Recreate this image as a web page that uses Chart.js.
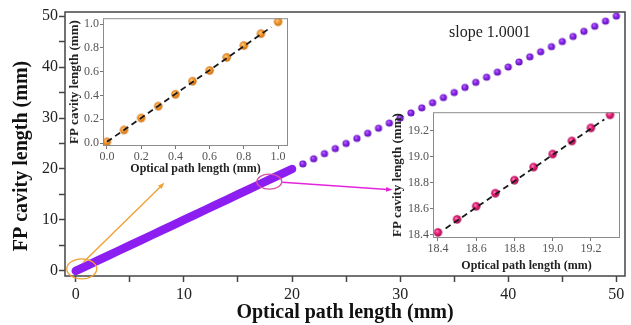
<!DOCTYPE html>
<html>
<head>
<meta charset="utf-8">
<script src="https://cdn.jsdelivr.net/npm/chart.js@4.4.0/dist/chart.umd.min.js"></script>
<style>
  html, body { margin: 0; padding: 0; background: #fff; }
  #wrap { position: relative; width: 631px; height: 325px; }
  #wrap canvas { position: absolute; }
</style>
</head>
<body>
<div id="wrap">
  <canvas id="mainChart" width="631" height="325" style="left:0;top:0"></canvas>
  <canvas id="insetLow" width="240" height="168" style="left:60px;top:10px"></canvas>
  <canvas id="insetMid" width="242" height="175" style="left:385px;top:104px"></canvas>
</div>
<script>
// main curve: optical path vs FP cavity length (mm)
var opticalPath  = [0,1,2,3,4,5,6,7,8,9,10,11,12,13,14,15,16,17,18,19,20,21,22,23,24,25,26,27,28,29,30,31,32,33,34,35,36,37,38,39,40,41,42,43,44,45,46,47,48,49,50];
var cavityLength = [0,1,2,3,4,5,6,7,8,9,10,11,12,13,14,15,16,17,18,19,20,21,22,23,24,25,26,27,28,29,30,31,32,33,34,35,36,37,38,39,40,41,42,43,44,45,46,47,48,49,50];
var denseUntil = 20;   // below this the measurement is dense (thick band)
var mainTickLabels = [0, 10, 20, 30, 40, 50];

// zoom near zero
var lowPath   = [0.0,0.1,0.2,0.3,0.4,0.5,0.6,0.7,0.8,0.9,1.0];
var lowCavity = [0.01,0.11,0.21,0.31,0.41,0.52,0.61,0.72,0.82,0.92,1.02];
var lowFitPath   = [0.0, 0.96];
var lowFitCavity = [0.01, 0.975];

// zoom near 18.4 - 19.3 mm
var midPath   = [18.4,18.5,18.6,18.7,18.8,18.9,19.0,19.1,19.2,19.3];
var midCavity = [18.42,18.52,18.62,18.72,18.82,18.92,19.02,19.12,19.22,19.32];
var midFitPath   = [18.44, 19.27];
var midFitCavity = [18.45, 19.285];

var slopeText = 'slope 1.0001';
var serif = "'Liberation Serif', 'Times New Roman', serif";

function pts(xs, ys) {
  var out = [];
  for (var i = 0; i < xs.length; i++) out.push({x: xs[i], y: ys[i]});
  return out;
}

// little shaded ball used as point style
function ball(r, light, base, dark) {
  var c = document.createElement('canvas');
  var s = Math.ceil(r * 2) + 2;
  c.width = s; c.height = s;
  var g = c.getContext('2d');
  var m = s / 2;
  var grad = g.createRadialGradient(m - r * 0.3, m - r * 0.35, 0, m, m, r * 1.05);
  grad.addColorStop(0, light);
  grad.addColorStop(0.45, base);
  grad.addColorStop(1, dark);
  g.fillStyle = grad;
  g.beginPath(); g.arc(m, m, r, 0, Math.PI * 2); g.fill();
  return c;
}

var violetBall = ball(3.6, '#c884ff', '#8e24f0', '#5812aa');
var orangeBall = ball(4.2, '#ffd89a', '#fa9a2e', '#c46a10');
var pinkBall   = ball(4.2, '#ff9ccc', '#f0207e', '#9a0846');

Chart.defaults.font.family = serif;
Chart.defaults.animation = false;

function arrow(ctx, x1, y1, x2, y2, color, head) {
  var a = Math.atan2(y2 - y1, x2 - x1);
  ctx.strokeStyle = color; ctx.fillStyle = color; ctx.lineWidth = 1.4;
  ctx.beginPath(); ctx.moveTo(x1, y1); ctx.lineTo(x2 - Math.cos(a) * head * 0.7, y2 - Math.sin(a) * head * 0.7); ctx.stroke();
  ctx.beginPath();
  ctx.moveTo(x2, y2);
  ctx.lineTo(x2 - head * Math.cos(a - 0.35), y2 - head * Math.sin(a - 0.35));
  ctx.lineTo(x2 - head * Math.cos(a + 0.35), y2 - head * Math.sin(a + 0.35));
  ctx.closePath(); ctx.fill();
}

var mainDecor = {
  id: 'mainDecor',
  afterDraw: function (chart) {
    var ctx = chart.ctx, a = chart.chartArea;
    var sx = chart.scales.x, sy = chart.scales.y;
    ctx.save();
    ctx.strokeStyle = '#444'; ctx.lineWidth = 1.5;
    ctx.strokeRect(a.left, a.top, a.right - a.left, a.bottom - a.top);

    // y title
    ctx.fillStyle = '#111';
    ctx.font = 'bold 20px ' + serif;
    ctx.textAlign = 'center'; ctx.textBaseline = 'middle';
    ctx.translate(22, 156); ctx.rotate(-Math.PI / 2);
    ctx.fillText('FP cavity length (mm)', 0, 0);
    ctx.restore();

    ctx.save();
    ctx.fillStyle = '#222';
    ctx.font = '16px ' + serif;
    ctx.textAlign = 'center'; ctx.textBaseline = 'middle';
    ctx.fillText(slopeText, sx.getPixelForValue(38.3), sy.getPixelForValue(46.7));

    // orange marker near origin
    ctx.strokeStyle = '#f0a034'; ctx.lineWidth = 1.3;
    ctx.beginPath();
    ctx.ellipse(sx.getPixelForValue(0.55), sy.getPixelForValue(0.4), 15, 10, 0, 0, Math.PI * 2);
    ctx.stroke();
    arrow(ctx, sx.getPixelForValue(0.65), sy.getPixelForValue(1.6),
               sx.getPixelForValue(8.2), sy.getPixelForValue(17.3), '#f0a034', 7);

    // pink marker near 18 mm
    ctx.strokeStyle = '#d850a8'; ctx.lineWidth = 1.3;
    ctx.beginPath();
    ctx.ellipse(sx.getPixelForValue(17.9), sy.getPixelForValue(17.5), 12.5, 7.5, 0, 0, Math.PI * 2);
    ctx.stroke();
    arrow(ctx, sx.getPixelForValue(19.1), sy.getPixelForValue(17.4),
               sx.getPixelForValue(29.3), sy.getPixelForValue(15.9), '#e424dc', 7);
    ctx.restore();
  }
};

var split = opticalPath.indexOf(denseUntil);

new Chart(document.getElementById('mainChart').getContext('2d'), {
  type: 'scatter',
  data: {
    datasets: [{
      data: pts(opticalPath.slice(0, split + 1), cavityLength.slice(0, split + 1)),
      showLine: true,
      borderColor: '#8c1ef2',
      borderWidth: 8.5,
      borderCapStyle: 'round',
      pointRadius: 0
    }, {
      data: pts(opticalPath.slice(split + 1), cavityLength.slice(split + 1)),
      pointStyle: violetBall,
      pointRadius: 4
    }]
  },
  options: {
    responsive: false,
    devicePixelRatio: 1,
    layout: { padding: { left: 0, top: 12, right: 6, bottom: 0 } },
    plugins: { legend: { display: false }, tooltip: { enabled: false } },
    scales: {
      x: {
        min: -1, max: 50.8,
        border: { display: false },
        grid: { drawOnChartArea: false, tickLength: 6, tickColor: '#444', tickWidth: 1.5 },
        ticks: {
          stepSize: 5, includeBounds: false, maxRotation: 0, autoSkip: false, padding: 3,
          color: '#222', font: { size: 16 },
          callback: function (v) { return mainTickLabels.indexOf(v) >= 0 ? String(v) : ''; }
        },
        title: { display: true, text: 'Optical path length (mm)', color: '#111',
                 font: { size: 20, weight: 'bold' }, padding: { top: 0, bottom: 0 } },
        afterFit: function (s) { s.height = 49; }
      },
      y: {
        min: -1, max: 50.8,
        border: { display: false },
        grid: { drawOnChartArea: false, tickLength: 6, tickColor: '#444', tickWidth: 1.5 },
        ticks: {
          stepSize: 5, includeBounds: false, autoSkip: false, padding: 1,
          color: '#222', font: { size: 16 },
          callback: function (v) { return mainTickLabels.indexOf(v) >= 0 ? String(v) : ''; }
        },
        afterFit: function (s) { s.width = 65; }
      }
    }
  },
  plugins: [mainDecor]
});

var insetFrame = {
  id: 'insetFrame',
  afterDraw: function (chart) {
    var ctx = chart.ctx, a = chart.chartArea;
    ctx.save();
    ctx.strokeStyle = '#8c8c8c'; ctx.lineWidth = 1;
    ctx.strokeRect(a.left + 0.5, a.top + 0.5, a.right - a.left - 1, a.bottom - a.top - 1);
    ctx.restore();
  }
};

// white panel under the inset (drawn before the axes)
var insetBack = {
  id: 'insetBack',
  beforeDraw: function (chart) {
    var ctx = chart.ctx, a = chart.chartArea;
    ctx.save();
    ctx.fillStyle = '#fff';
    ctx.fillRect(a.left, a.top, a.right - a.left, a.bottom - a.top);
    ctx.restore();
  }
};

function insetAxis(min, max, extra) {
  var o = {
    min: min, max: max,
    border: { display: false },
    grid: { drawOnChartArea: false, tickLength: 3, tickColor: '#777', tickWidth: 1 },
    ticks: {
      stepSize: 0.2, includeBounds: false, maxRotation: 0, autoSkip: false, padding: 1,
      color: '#555', font: { size: 12 },
      callback: function (v) { return v.toFixed(1); }
    }
  };
  for (var k in extra) o[k] = extra[k];
  return o;
}

function makeInset(id, xs, ys, fx, fy, sprite, xr, yr, pad, xH, yW, xTitlePad, yTitlePad) {
  new Chart(document.getElementById(id).getContext('2d'), {
    type: 'scatter',
    data: {
      datasets: [{
        data: pts(fx, fy),
        showLine: true,
        borderColor: '#1a1a1a',
        borderWidth: 1.8,
        borderDash: [6, 4],
        pointRadius: 0,
        order: 0
      }, {
        data: pts(xs, ys),
        pointStyle: sprite,
        pointRadius: 4,
        order: 1
      }]
    },
    options: {
      responsive: false,
      devicePixelRatio: 1,
      layout: { padding: pad },
      plugins: { legend: { display: false }, tooltip: { enabled: false } },
      scales: {
        x: insetAxis(xr[0], xr[1], {
          title: { display: true, text: 'Optical path length (mm)', color: '#222',
                   font: { size: 12, weight: 'bold' }, padding: { top: 0, bottom: xTitlePad } },
          afterFit: function (s) { s.height = xH; }
        }),
        y: insetAxis(yr[0], yr[1], {
          title: { display: true, text: 'FP cavity length (mm)', color: '#222',
                   font: { size: 13, weight: 'bold' }, padding: { top: yTitlePad, bottom: 0 } },
          afterFit: function (s) { s.width = yW; }
        })
      }
    },
    plugins: [insetBack, insetFrame]
  });
}

makeInset('insetLow', lowPath, lowCavity, lowFitPath, lowFitCavity, orangeBall,
  [-0.023, 1.058], [-0.025, 1.05], { left: 0, top: 8, right: 12, bottom: 0 }, 32, 43, 1.8, 7.2);

makeInset('insetMid', midPath, midCavity, midFitPath, midFitCavity, pinkBall,
  [18.374, 19.352], [18.377, 19.34], { left: 0, top: 8, right: 7, bottom: 0 }, 41, 48, 5.8, 5.2);
</script>
</body>
</html>
